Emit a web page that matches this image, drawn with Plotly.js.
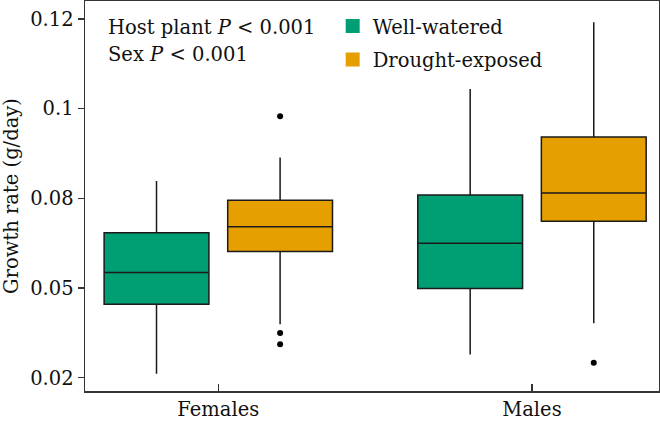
<!DOCTYPE html>
<html>
<head>
<meta charset="utf-8">
<script src="https://cdn.plot.ly/plotly-3.0.1.min.js"></script>
<style>html,body{margin:0;padding:0;background:#fff;}#chart{width:660px;height:424px;}</style>
</head>
<body>
<div id="chart"></div>
<script>
// Categories
var groups = ['Females', 'Males'];

// Well-watered box statistics (g/day)
var wwLower  = [0.0261, 0.0315];
var wwQ1     = [0.0455, 0.0499];
var wwMedian = [0.0543, 0.0625];
var wwQ3     = [0.0654, 0.0759];
var wwUpper  = [0.0798, 0.1055];
var wwOutliers = null;

// Drought-exposed box statistics (g/day)
var drLower  = [0.0399, 0.0402];
var drQ1     = [0.0602, 0.0686];
var drMedian = [0.0671, 0.0765];
var drQ3     = [0.0745, 0.0921];
var drUpper  = [0.0864, 0.1241];
var drOutliers = [[0.0979, 0.0375, 0.0343], [0.0292]];

// Y tick positions and labels
var yTickVals = [0.025, 0.05, 0.075, 0.1, 0.125];
var yTickText = ['0.02', '0.05', '0.08', '0.1', '0.12'];

var FONT = 'DejaVu Serif, serif';
var GREEN = '#009E73';
var ORANGE = '#E69F00';
var LINE = '#1a1a1a';

function boxTrace(name, color, lo, q1, med, q3, hi, pts) {
  var t = {
    type: 'box', name: name, x: groups,
    q1: q1, median: med, q3: q3, lowerfence: lo, upperfence: hi,
    boxpoints: pts ? 'outliers' : false, jitter: 0, pointpos: 0,
    fillcolor: color, line: {color: LINE, width: 1.5},
    whiskerwidth: 0,
    marker: {color: '#000', size: 6},
    showlegend: false
  };
  if (pts) t.y = pts;
  return t;
}

var data = [
  boxTrace('Well-watered', GREEN, wwLower, wwQ1, wwMedian, wwQ3, wwUpper, wwOutliers),
  boxTrace('Drought-exposed', ORANGE, drLower, drQ1, drMedian, drQ3, drUpper, drOutliers),
  {type: 'scatter', mode: 'markers', name: 'Well-watered', x: [null], y: [null],
   marker: {symbol: 'square', size: 14, color: GREEN}, legendgroup: 'a', hoverinfo: 'skip'},
  {type: 'scatter', mode: 'markers', name: 'Drought-exposed', x: [null], y: [null],
   marker: {symbol: 'square', size: 14, color: ORANGE}, legendgroup: 'b', hoverinfo: 'skip'}
];

var layout = {
  width: 660, height: 424,
  margin: {l: 85, r: 1, t: 1, b: 33},
  paper_bgcolor: '#fff', plot_bgcolor: '#fff',
  font: {family: FONT, size: 19.5, color: '#111'},
  boxmode: 'group', boxgap: 0.212, boxgroupgap: 0.152,
  xaxis: {
    type: 'category', range: [-0.425, 1.405],
    ticks: 'inside', ticklen: 7, tickwidth: 1.2, tickcolor: '#333',
    showline: true, linecolor: '#333', linewidth: 1.5, mirror: true,
    showgrid: false, zeroline: false,
    tickfont: {family: FONT, size: 19.5, color: '#111'}
  },
  yaxis: {
    range: [0.0213, 0.130],
    tickmode: 'array', tickvals: yTickVals, ticktext: yTickText,
    ticks: 'outside', ticklen: 6, tickwidth: 1.2, tickcolor: '#333',
    showline: true, linecolor: '#333', linewidth: 1.5, mirror: true,
    showgrid: false, zeroline: false,
    tickfont: {family: FONT, size: 19.5, color: '#111'},
    title: {text: 'Growth rate (g/day)', font: {family: FONT, size: 19.5, color: '#111'}, standoff: 8}
  },
  legend: {
    x: 0.4315, xanchor: 'left', y: 0.985, yanchor: 'top',
    bgcolor: 'rgba(0,0,0,0)', borderwidth: 0,
    font: {family: FONT, size: 19.5, color: '#111'},
    traceorder: 'grouped', tracegroupgap: 5
  },
  showlegend: true,
  annotations: [
    {xref: 'paper', yref: 'paper', x: 0.0366, y: 0.933, xanchor: 'left', yanchor: 'middle',
     text: 'Host plant <i>P</i> &lt; 0.001', showarrow: false,
     font: {family: FONT, size: 19.5, color: '#111'}},
    {xref: 'paper', yref: 'paper', x: 0.0366, y: 0.862, xanchor: 'left', yanchor: 'middle',
     text: 'Sex <i>P</i> &lt; 0.001', showarrow: false,
     font: {family: FONT, size: 19.5, color: '#111'}}
  ]
};

Plotly.newPlot('chart', data, layout, {displayModeBar: false, staticPlot: true});
</script>
</body>
</html>
